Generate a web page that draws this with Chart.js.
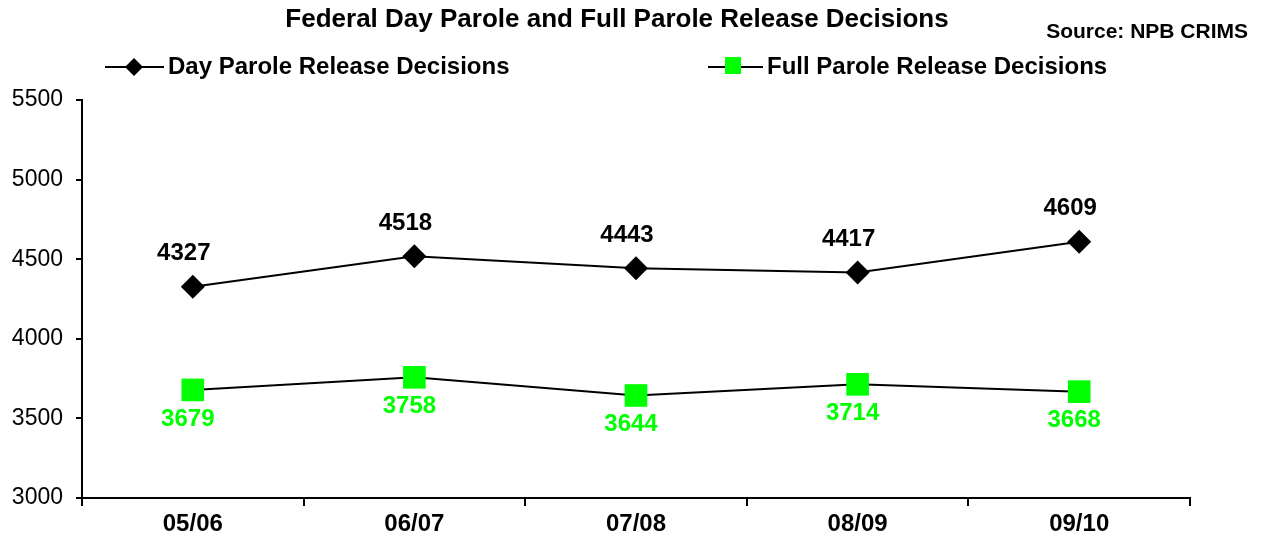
<!DOCTYPE html>
<html lang="en">
<head>
<meta charset="UTF-8">
<title>Federal Day Parole and Full Parole Release Decisions</title>
<script src="https://cdn.jsdelivr.net/npm/chart.js"></script>
<style>
    body { margin: 0; background: #fff; }
    .wrap { width: 1261px; height: 543px; position: relative; }
</style>
</head>
<body>
<div class="wrap"><canvas id="parole"></canvas></div>
<script>
const years = ['05/06', '06/07', '07/08', '08/09', '09/10'];
const dayParole = [4327, 4518, 4443, 4417, 4609];
const fullParole = [3679, 3758, 3644, 3714, 3668];
const yTicks = [3000, 3500, 4000, 4500, 5000, 5500];

const FONT = 'Arial, "Liberation Sans", sans-serif';
const GREEN = '#00ff00';

// title, source, legend and point values drawn by hand
const decorations = {
    id: 'decorations',
    afterDatasetsDraw(chart) {
        const c = chart.ctx;
        c.save();
        c.fillStyle = '#000';
        c.textBaseline = 'middle';

        c.font = 'bold 26px ' + FONT;
        c.textAlign = 'center';
        c.fillText('Federal Day Parole and Full Parole Release Decisions', 617, 20);

        c.font = 'bold 21px ' + FONT;
        c.textAlign = 'right';
        c.fillText('Source: NPB CRIMS', 1248, 32);

        // legend
        c.lineWidth = 2;
        c.strokeStyle = '#000';
        c.beginPath();
        c.moveTo(105, 67); c.lineTo(164, 67);
        c.moveTo(708, 67); c.lineTo(763, 67);
        c.stroke();
        c.beginPath();
        c.moveTo(134, 58); c.lineTo(143, 67); c.lineTo(134, 76); c.lineTo(125, 67);
        c.closePath();
        c.fill();
        c.fillStyle = GREEN;
        c.fillRect(725, 57, 16, 17);
        c.fillStyle = '#000';
        c.font = 'bold 24px ' + FONT;
        c.textAlign = 'left';
        c.fillText('Day Parole Release Decisions', 168, 67);
        c.fillText('Full Parole Release Decisions', 767, 67);

        // value labels
        c.font = 'bold 24px ' + FONT;
        c.textAlign = 'center';
        const m0 = chart.getDatasetMeta(0).data;
        const m1 = chart.getDatasetMeta(1).data;
        m0.forEach((p, i) => {
            c.fillStyle = '#000';
            c.fillText(String(dayParole[i]), p.x - 9, p.y - 33);
        });
        m1.forEach((p, i) => {
            c.fillStyle = GREEN;
            c.fillText(String(fullParole[i]), p.x - 5, p.y + 29);
        });
        c.restore();
    }
};

new Chart(document.getElementById('parole'), {
    type: 'line',
    data: {
        labels: years,
        datasets: [
            {
                label: 'Day Parole Release Decisions',
                data: dayParole,
                borderColor: '#000',
                borderWidth: 2,
                pointStyle: 'rectRot',
                pointRadius: 12,
                pointBackgroundColor: '#000',
                pointBorderColor: '#000',
                pointBorderWidth: 0,
                tension: 0
            },
            {
                label: 'Full Parole Release Decisions',
                data: fullParole,
                borderColor: '#000',
                borderWidth: 2,
                pointStyle: 'rect',
                pointRadius: 16,
                pointBackgroundColor: GREEN,
                pointBorderColor: GREEN,
                pointBorderWidth: 0,
                tension: 0
            }
        ]
    },
    options: {
        responsive: true,
        maintainAspectRatio: false,
        animation: false,
        layout: { padding: { top: 100, right: 71, left: 0, bottom: 0 } },
        plugins: {
            legend: { display: false },
            tooltip: { enabled: false },
            title: { display: false }
        },
        scales: {
            x: {
                offset: true,
                afterFit(s) { s.height = 45; },
                grid: { offset: true, drawOnChartArea: false, color: '#000', lineWidth: 2, tickLength: 8 },
                border: { color: '#000', width: 2 },
                ticks: { color: '#000', font: { family: FONT, size: 24, weight: 'bold' }, padding: 4 }
            },
            y: {
                min: 3000,
                max: 5500,
                afterFit(s) { s.width = 82; },
                afterBuildTicks(s) { s.ticks = yTicks.map(v => ({ value: v })); },
                grid: { drawOnChartArea: false, color: '#000', lineWidth: 2, tickLength: 6 },
                border: { color: '#000', width: 2 },
                ticks: {
                    color: '#000',
                    font: { family: FONT, size: 23 },
                    padding: 13,
                    callback: v => String(v)
                }
            }
        }
    },
    plugins: [decorations]
});
</script>
</body>
</html>
